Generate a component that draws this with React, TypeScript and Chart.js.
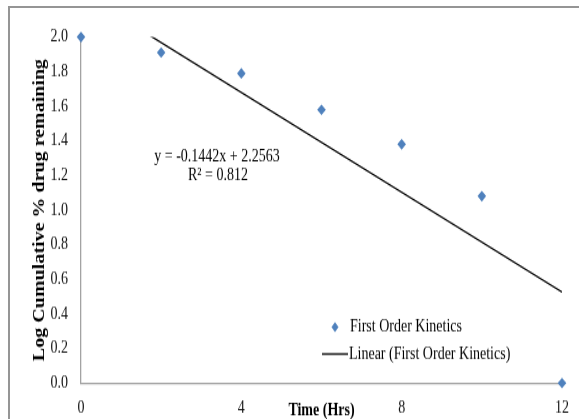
import React, { useEffect, useRef } from "react";
import { Chart, registerables } from "chart.js";

Chart.register(...registerables);

// ---- data ----
const TIME_HRS = [0, 2, 4, 6, 8, 10, 12];
const LOG_REMAINING = [2.0, 1.91, 1.79, 1.58, 1.38, 1.08, 0.0];
const X_TICKS = [0, 4, 8, 12];
const Y_TICKS = [0, 0.2, 0.4, 0.6, 0.8, 1.0, 1.2, 1.4, 1.6, 1.8, 2.0];
const TREND_SLOPE = -0.1442;
const TREND_INTERCEPT = 2.2563;
const TREND_X = [0, 12];
const EQUATION_LINES = ["y = -0.1442x + 2.2563", "R² = 0.812"];
const SERIES_LABEL = "First Order Kinetics";
const TREND_LABEL = "Linear (First Order Kinetics)";
const X_TITLE = "Time (Hrs)";
const Y_TITLE = "Log Cumulative % drug remaining";

const W = 579;
const H_IMG = 419;
const STRETCH = 1.25;
const H = Math.round(H_IMG / STRETCH);
const SY = H_IMG / H;

const BLUE = "#4f81bd";
const SERIF = '"Liberation Serif", "Times New Roman", serif';

const overlayPlugin = {
  id: "overlay",
  afterDraw(chart: any) {
    const ctx = chart.ctx;
    ctx.save();
    ctx.fillStyle = "#000";
    ctx.font = `14px ${SERIF}`;
    ctx.textAlign = "center";
    ctx.textBaseline = "middle";
    ctx.fillText(EQUATION_LINES[0], 217, 157 / SY);
    ctx.fillText(EQUATION_LINES[1], 218, 175 / SY);

    // legend
    const y1 = 327 / SY;
    const y2 = 354 / SY;
    ctx.fillStyle = BLUE;
    ctx.beginPath();
    ctx.moveTo(335, y1 - 4);
    ctx.lineTo(338.5, y1);
    ctx.lineTo(335, y1 + 4);
    ctx.lineTo(331.5, y1);
    ctx.closePath();
    ctx.fill();
    ctx.fillStyle = "#000";
    ctx.textAlign = "left";
    ctx.fillText(SERIES_LABEL, 350, y1);
    ctx.strokeStyle = "#000";
    ctx.lineWidth = 1.3;
    ctx.beginPath();
    ctx.moveTo(322, y2);
    ctx.lineTo(348, y2);
    ctx.stroke();
    ctx.fillText(TREND_LABEL, 349, y2);
    ctx.restore();
  },
};

export default function App() {
  const ref = useRef<HTMLCanvasElement | null>(null);

  useEffect(() => {
    if (!ref.current) return;
    const points = TIME_HRS.map((x, i) => ({ x, y: LOG_REMAINING[i] }));
    const trend = TREND_X.map((x) => ({ x, y: TREND_SLOPE * x + TREND_INTERCEPT }));
    const chartTop = 37 / SY;
    const chartBottom = 383 / SY;
    const chart = new Chart(ref.current, {
      type: "scatter",
      data: {
        datasets: [
          {
            type: "line",
            label: TREND_LABEL,
            data: trend,
            borderColor: "#000",
            borderWidth: 1.3,
            pointRadius: 0,
            showLine: true,
            fill: false,
            clip: 0,
          } as any,
          {
            label: SERIES_LABEL,
            data: points,
            pointStyle: "rectRot",
            pointRadius: 4.3,
            pointHoverRadius: 4.3,
            backgroundColor: BLUE,
            borderColor: BLUE,
            borderWidth: 0,
            clip: false,
          } as any,
        ],
      },
      options: {
        responsive: false,
        animation: false,
        devicePixelRatio: 1,
        layout: { padding: { left: 0, right: W - 562, top: chartTop, bottom: 0 } },
        plugins: {
          legend: { display: false },
          tooltip: { enabled: false },
        },
        scales: {
          x: {
            type: "linear",
            min: 0,
            max: 12,
            grid: { display: false },
            border: { display: true, color: "#a3a3a3", width: 1.3 },
            afterBuildTicks: (s: any) => {
              s.ticks = X_TICKS.map((v) => ({ value: v }));
            },
            afterFit: (s: any) => {
              s.height = H - chartBottom;
            },
            ticks: {
              padding: 4,
              color: "#111",
              font: { family: SERIF, size: 14 },
              maxRotation: 0,
              autoSkip: false,
            },
            title: {
              display: true,
              text: X_TITLE,
              color: "#000",
              font: { family: SERIF, size: 14, weight: "bold", lineHeight: 1 },
              padding: { top: 0, bottom: 0 },
            },
          },
          y: {
            type: "linear",
            min: 0,
            max: 2,
            grid: { display: false },
            border: { display: true, color: "#a3a3a3", width: 1.3 },
            afterBuildTicks: (s: any) => {
              s.ticks = Y_TICKS.map((v) => ({ value: v }));
            },
            afterFit: (s: any) => {
              s.width = 81;
            },
            ticks: {
              padding: 5,
              color: "#111",
              font: { family: SERIF, size: 14 },
              callback: (v: any) => Number(v).toFixed(1),
            },
            title: {
              display: true,
              text: Y_TITLE,
              color: "#000",
              font: { family: SERIF, size: 16, weight: "bold", lineHeight: 1 },
              padding: { top: 32, bottom: 0 },
            },
          },
        },
      },
      plugins: [overlayPlugin],
    } as any);
    return () => chart.destroy();
  }, []);

  return (
    <div
      style={{
        position: "fixed",
        left: 0,
        top: 0,
        width: W,
        height: H_IMG,
        overflow: "hidden",
        background: "#fff",
      }}
    >
      <div
        style={{
          position: "absolute",
          left: 8,
          top: 6,
          width: 700,
          height: 600,
          borderLeft: "2px solid #959595",
          borderTop: "2px solid #959595",
        }}
      />
      <div
        style={{
          position: "absolute",
          left: 0,
          top: 0,
          width: W,
          height: H,
          transform: `scaleY(${SY})`,
          transformOrigin: "0 0",
        }}
      >
        <canvas ref={ref} width={W} height={H} />
      </div>
    </div>
  );
}
